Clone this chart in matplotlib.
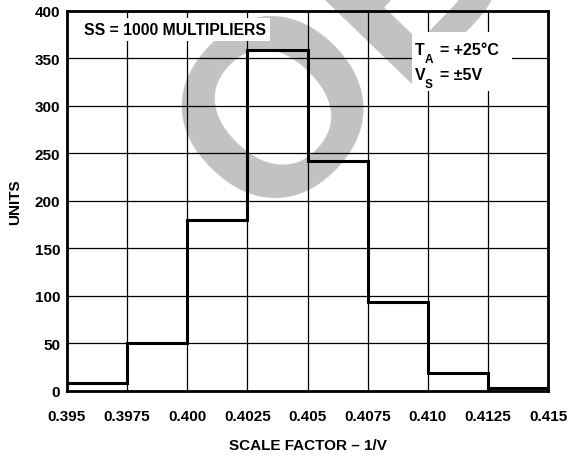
import numpy as np
import matplotlib
matplotlib.use("Agg")
import matplotlib.pyplot as plt
from matplotlib.patches import Rectangle

# ---- data ----
bin_edges = [0.395, 0.3975, 0.400, 0.4025, 0.405, 0.4075, 0.410, 0.4125, 0.415]
units = [8, 50, 180, 359, 242, 94, 19, 3]
x_tick_labels = ["0.395", "0.3975", "0.400", "0.4025", "0.405", "0.4075", "0.410", "0.4125", "0.415"]
y_ticks = [0, 50, 100, 150, 200, 250, 300, 350, 400]

W, H = 571, 456
plt.rcParams['font.family'] = ['Liberation Sans', 'DejaVu Sans']
plt.rcParams['font.weight'] = 'bold'

fig = plt.figure(figsize=(W / 100, H / 100), dpi=100)
L, R, T, B = 67, 548, 11.5, 392
ax = fig.add_axes([L / W, 1 - B / H, (R - L) / W, (B - T) / H])

def fpx(x, y):
    return (x / W, 1 - y / H)

# watermark
fs_wm = 180
em = fs_wm * 100 / 72
rot = 46
th = np.deg2rad(rot)
ox, oy = 0.389 * em, 0.36 * em
cx, cy = 268, H - 97
ax_ = cx - (ox * np.cos(th) - oy * np.sin(th))
ay_ = cy - (ox * np.sin(th) + oy * np.cos(th))
ax.text(ax_ / W, ay_ / H, "OBSOLETE", transform=fig.transFigure, fontsize=fs_wm,
        fontweight='bold', color='#c2c2c2', rotation=rot, rotation_mode='anchor',
        ha='left', va='baseline', clip_on=False, zorder=0.2)

ax.stairs(units, bin_edges, baseline=None, color='black', linewidth=2.2, zorder=2)

ax.set_xlim(bin_edges[0], bin_edges[-1])
ax.set_ylim(0, 400)
ax.set_xticks(bin_edges)
ax.set_xticklabels(x_tick_labels)
ax.set_yticks(y_ticks)
ax.set_axisbelow(True)
ax.grid(True, color='black', linewidth=0.9)
ax.tick_params(axis='both', length=0, labelsize=11)
ax.tick_params(axis='x', pad=13)
ax.tick_params(axis='y', pad=5)
for lbl in ax.get_xticklabels() + ax.get_yticklabels():
    lbl.set_fontweight('bold')
for s in ax.spines.values():
    s.set_linewidth(2.0)
    s.set_zorder(3)

ax.set_xlabel("SCALE FACTOR \u2013 1/V", fontsize=11, fontweight='bold', labelpad=11)
ax.set_ylabel("UNITS", fontsize=11, fontweight='bold', labelpad=9)

# SS annotation
x0, y0 = fpx(84, 35)
ax.text(x0, y0, "SS = 1000 MULTIPLIERS", transform=fig.transFigure, fontsize=11.3,
        fontweight='bold', ha='left', va='baseline', zorder=4,
        bbox=dict(boxstyle='square,pad=0.25', fc='white', ec='none'))

# T_A / V_S block
bx0, by0 = fpx(412, 92)
bx1, by1 = fpx(512, 33)
ax.add_patch(Rectangle((bx0, by0), bx1 - bx0, by1 - by0, transform=fig.transFigure,
                       facecolor='white', edgecolor='none', zorder=2.8, clip_on=False))
pieces = [("T", 415, 55, 11.5), ("A", 425, 63, 8.5), ("= +25\u00b0C", 440, 55, 11.5),
          ("V", 415, 80, 11.5), ("S", 425, 88, 8.5), ("= \u00b15V", 440, 80, 11.5)]
for s, px_, py_, fs in pieces:
    xx, yy = fpx(px_, py_)
    ax.text(xx, yy, s, transform=fig.transFigure, fontsize=fs, fontweight='bold',
            ha='left', va='baseline', zorder=4, clip_on=False)

fig.savefig("out.png", dpi=100)
